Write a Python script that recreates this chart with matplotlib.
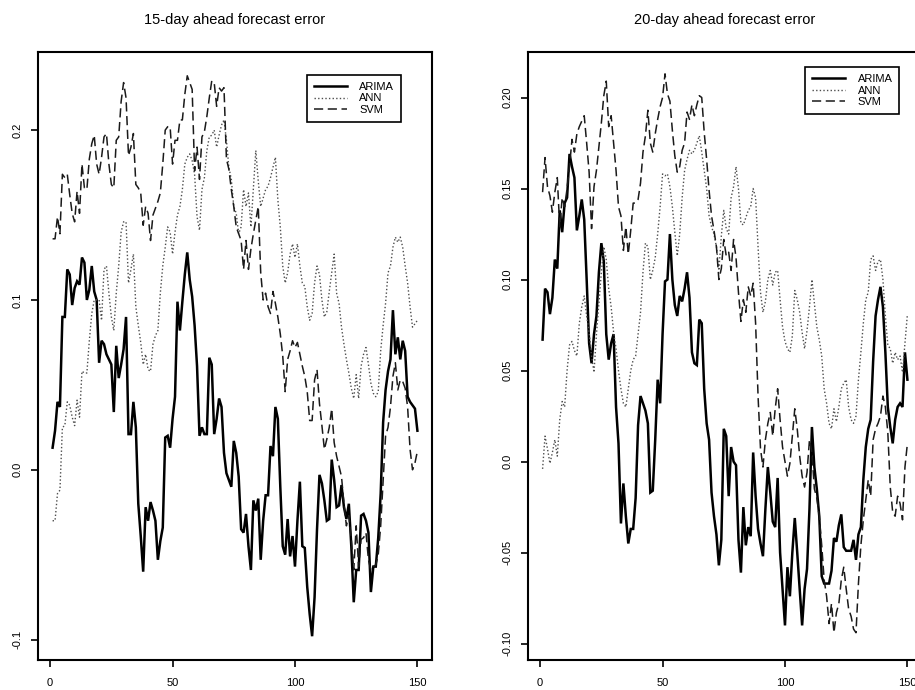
import numpy as np
import matplotlib
matplotlib.use("Agg")
import matplotlib.pyplot as plt
from matplotlib.lines import Line2D

plt.rcParams['font.family'] = ['Liberation Sans', 'DejaVu Sans']

days = np.arange(1, 151)

# 15-day ahead forecast error
arima15 = [0.013, 0.023, 0.040, 0.037, 0.090, 0.090, 0.118, 0.115, 0.097, 0.107,
           0.111, 0.109, 0.125, 0.122, 0.100, 0.106, 0.120, 0.105, 0.100, 0.063,
           0.076, 0.074, 0.068, 0.065, 0.062, 0.034, 0.073, 0.054, 0.062, 0.071,
           0.090, 0.021, 0.021, 0.040, 0.025, -0.020, -0.039, -0.060, -0.022, -0.030,
           -0.019, -0.024, -0.030, -0.053, -0.042, -0.034, 0.019, 0.020, 0.013, 0.030,
           0.043, 0.099, 0.082, 0.099, 0.115, 0.128, 0.112, 0.102, 0.085, 0.061,
           0.020, 0.025, 0.021, 0.021, 0.066, 0.062, 0.021, 0.030, 0.042, 0.037,
           0.010, -0.002, -0.006, -0.010, 0.017, 0.010, -0.004, -0.035, -0.037, -0.026,
           -0.045, -0.059, -0.018, -0.024, -0.017, -0.053, -0.030, -0.015, -0.015, 0.014,
           0.008, 0.037, 0.030, -0.010, -0.045, -0.050, -0.029, -0.051, -0.039, -0.057,
           -0.030, -0.007, -0.045, -0.046, -0.069, -0.085, -0.098, -0.075, -0.035, -0.003,
           -0.008, -0.018, -0.030, -0.029, 0.006, -0.006, -0.022, -0.021, -0.009, -0.022,
           -0.029, -0.020, -0.045, -0.078, -0.059, -0.059, -0.027, -0.026, -0.030, -0.037,
           -0.072, -0.057, -0.057, -0.040, -0.014, 0.028, 0.047, 0.058, 0.065, 0.094,
           0.068, 0.078, 0.065, 0.076, 0.070, 0.043, 0.040, 0.038, 0.036, 0.023]
ann15 = [-0.030, -0.030, -0.014, -0.012, 0.025, 0.026, 0.040, 0.038, 0.031, 0.026,
         0.041, 0.031, 0.058, 0.057, 0.057, 0.076, 0.092, 0.100, 0.100, 0.100,
         0.088, 0.118, 0.120, 0.104, 0.090, 0.082, 0.104, 0.120, 0.140, 0.146,
         0.146, 0.110, 0.118, 0.127, 0.096, 0.085, 0.075, 0.062, 0.068, 0.059,
         0.058, 0.074, 0.079, 0.082, 0.104, 0.120, 0.131, 0.143, 0.140, 0.127,
         0.140, 0.150, 0.155, 0.165, 0.180, 0.184, 0.186, 0.182, 0.174, 0.149,
         0.141, 0.165, 0.172, 0.188, 0.196, 0.197, 0.200, 0.190, 0.197, 0.203,
         0.206, 0.194, 0.178, 0.171, 0.155, 0.151, 0.139, 0.143, 0.165, 0.155,
         0.163, 0.143, 0.165, 0.188, 0.170, 0.155, 0.160, 0.165, 0.167, 0.172,
         0.178, 0.184, 0.159, 0.143, 0.120, 0.110, 0.116, 0.127, 0.133, 0.125,
         0.133, 0.120, 0.110, 0.108, 0.096, 0.088, 0.092, 0.110, 0.120, 0.115,
         0.100, 0.090, 0.093, 0.105, 0.116, 0.127, 0.104, 0.098, 0.084, 0.074,
         0.065, 0.057, 0.048, 0.042, 0.056, 0.042, 0.061, 0.068, 0.072, 0.062,
         0.051, 0.045, 0.043, 0.046, 0.070, 0.085, 0.098, 0.116, 0.120, 0.131,
         0.137, 0.134, 0.137, 0.131, 0.120, 0.110, 0.096, 0.084, 0.086, 0.088]
svm15 = [0.136, 0.136, 0.149, 0.139, 0.174, 0.172, 0.174, 0.162, 0.151, 0.146,
         0.164, 0.151, 0.180, 0.166, 0.165, 0.183, 0.192, 0.197, 0.180, 0.174,
         0.184, 0.196, 0.198, 0.180, 0.168, 0.166, 0.194, 0.196, 0.217, 0.228,
         0.219, 0.185, 0.190, 0.198, 0.168, 0.166, 0.163, 0.144, 0.155, 0.151,
         0.135, 0.150, 0.154, 0.158, 0.163, 0.180, 0.200, 0.202, 0.202, 0.180,
         0.194, 0.194, 0.206, 0.206, 0.221, 0.232, 0.228, 0.224, 0.176, 0.190,
         0.171, 0.196, 0.199, 0.208, 0.219, 0.229, 0.228, 0.214, 0.225, 0.223,
         0.225, 0.183, 0.177, 0.165, 0.155, 0.143, 0.139, 0.135, 0.118, 0.135,
         0.118, 0.130, 0.139, 0.147, 0.155, 0.116, 0.100, 0.104, 0.096, 0.092,
         0.105, 0.098, 0.090, 0.080, 0.067, 0.046, 0.065, 0.070, 0.076, 0.072,
         0.075, 0.068, 0.061, 0.055, 0.046, 0.029, 0.029, 0.053, 0.059, 0.039,
         0.026, 0.012, 0.018, 0.025, 0.036, 0.016, 0.008, 0.002, -0.004, -0.020,
         -0.033, -0.027, -0.041, -0.059, -0.033, -0.057, -0.041, -0.040, -0.037, -0.053,
         -0.059, -0.057, -0.056, -0.050, -0.033, -0.006, 0.020, 0.025, 0.037, 0.055,
         0.063, 0.047, 0.053, 0.052, 0.048, 0.037, 0.012, 0.000, 0.004, 0.011]

# 20-day ahead forecast error
arima20 = [0.067, 0.095, 0.093, 0.081, 0.090, 0.111, 0.106, 0.138, 0.126, 0.142,
           0.145, 0.169, 0.162, 0.156, 0.127, 0.135, 0.144, 0.133, 0.100, 0.065,
           0.054, 0.070, 0.080, 0.104, 0.120, 0.110, 0.070, 0.056, 0.065, 0.070,
           0.030, 0.010, -0.034, -0.012, -0.030, -0.045, -0.037, -0.037, -0.020, 0.020,
           0.036, 0.032, 0.028, 0.021, -0.017, -0.016, 0.012, 0.045, 0.032, 0.070,
           0.099, 0.100, 0.125, 0.100, 0.086, 0.080, 0.091, 0.088, 0.095, 0.104,
           0.090, 0.060, 0.054, 0.053, 0.078, 0.076, 0.040, 0.021, 0.012, -0.017,
           -0.030, -0.040, -0.057, -0.043, 0.018, 0.014, -0.019, 0.008, 0.000, -0.002,
           -0.043, -0.061, -0.025, -0.046, -0.036, -0.041, 0.005, -0.019, -0.037, -0.045,
           -0.052, -0.026, -0.003, -0.017, -0.033, -0.036, -0.009, -0.050, -0.070, -0.090,
           -0.058, -0.074, -0.050, -0.031, -0.050, -0.070, -0.090, -0.070, -0.059, -0.026,
           0.019, -0.003, -0.015, -0.030, -0.063, -0.067, -0.067, -0.067, -0.060, -0.042,
           -0.044, -0.035, -0.029, -0.047, -0.049, -0.049, -0.049, -0.043, -0.054, -0.040,
           -0.036, -0.010, 0.008, 0.018, 0.023, 0.055, 0.080, 0.089, 0.096, 0.085,
           0.060, 0.030, 0.019, 0.010, 0.023, 0.030, 0.032, 0.030, 0.060, 0.045]
ann20 = [-0.004, 0.014, 0.007, -0.001, 0.005, 0.012, 0.003, 0.023, 0.033, 0.030,
         0.050, 0.064, 0.066, 0.061, 0.058, 0.076, 0.085, 0.091, 0.080, 0.071,
         0.058, 0.049, 0.070, 0.087, 0.104, 0.118, 0.111, 0.095, 0.085, 0.071,
         0.062, 0.050, 0.040, 0.032, 0.030, 0.040, 0.050, 0.056, 0.058, 0.070,
         0.082, 0.104, 0.120, 0.118, 0.100, 0.105, 0.112, 0.125, 0.140, 0.158,
         0.157, 0.158, 0.151, 0.140, 0.126, 0.113, 0.125, 0.145, 0.160, 0.166,
         0.171, 0.169, 0.171, 0.175, 0.179, 0.170, 0.160, 0.150, 0.135, 0.129,
         0.125, 0.118, 0.105, 0.124, 0.138, 0.128, 0.125, 0.145, 0.151, 0.162,
         0.150, 0.131, 0.130, 0.134, 0.138, 0.140, 0.150, 0.145, 0.118, 0.093,
         0.082, 0.088, 0.100, 0.105, 0.097, 0.104, 0.105, 0.089, 0.074, 0.066,
         0.062, 0.060, 0.069, 0.094, 0.089, 0.082, 0.071, 0.062, 0.072, 0.085,
         0.100, 0.087, 0.074, 0.067, 0.058, 0.040, 0.032, 0.021, 0.018, 0.029,
         0.022, 0.030, 0.040, 0.043, 0.045, 0.030, 0.023, 0.021, 0.025, 0.045,
         0.060, 0.076, 0.089, 0.093, 0.111, 0.113, 0.105, 0.110, 0.111, 0.100,
         0.080, 0.064, 0.062, 0.054, 0.060, 0.056, 0.058, 0.049, 0.065, 0.081]
svm20 = [0.148, 0.167, 0.151, 0.146, 0.137, 0.148, 0.156, 0.129, 0.145, 0.140,
         0.150, 0.162, 0.177, 0.170, 0.180, 0.184, 0.187, 0.190, 0.175, 0.159,
         0.128, 0.151, 0.160, 0.173, 0.186, 0.201, 0.209, 0.184, 0.190, 0.175,
         0.160, 0.140, 0.135, 0.116, 0.129, 0.114, 0.127, 0.142, 0.142, 0.144,
         0.153, 0.170, 0.179, 0.193, 0.175, 0.170, 0.180, 0.188, 0.195, 0.200,
         0.213, 0.202, 0.198, 0.182, 0.168, 0.159, 0.162, 0.171, 0.175, 0.192,
         0.188, 0.196, 0.190, 0.196, 0.201, 0.200, 0.181, 0.166, 0.149, 0.135,
         0.127, 0.118, 0.100, 0.106, 0.122, 0.113, 0.115, 0.105, 0.122, 0.112,
         0.093, 0.077, 0.089, 0.082, 0.096, 0.091, 0.098, 0.076, 0.036, 0.007,
         -0.003, 0.012, 0.021, 0.027, 0.014, 0.029, 0.040, 0.023, 0.008, 0.000,
         -0.008, -0.001, 0.014, 0.029, 0.018, 0.003, -0.008, -0.014, -0.006, 0.012,
         0.005, -0.015, -0.020, -0.030, -0.046, -0.065, -0.074, -0.089, -0.078, -0.094,
         -0.083, -0.078, -0.065, -0.058, -0.070, -0.081, -0.085, -0.092, -0.094, -0.067,
         -0.046, -0.032, -0.021, -0.010, -0.019, 0.012, 0.018, 0.021, 0.025, 0.036,
         0.030, 0.016, -0.014, -0.028, -0.030, -0.019, -0.023, -0.032, -0.003, 0.010]

panels = [
    ("15-day ahead forecast error", arima15, ann15, svm15,
     [-0.1, 0.0, 0.1, 0.2], ["-0.1", "0.0", "0.1", "0.2"], (-0.112, 0.246)),
    ("20-day ahead forecast error", arima20, ann20, svm20,
     [-0.10, -0.05, 0.0, 0.05, 0.10, 0.15, 0.20],
     ["-0.10", "-0.05", "0.0", "0.05", "0.10", "0.15", "0.20"], (-0.109, 0.225)),
]
lefts = [38 / 915, 528 / 915]
legend_anchor = [(0.921, 0.962), (0.942, 0.975)]

ann_style = dict(color='0.3', lw=1.0, linestyle=(0, (1, 1.6)))
svm_style = dict(color='0.1', lw=1.1, linestyle=(0, (6, 3)))

fig = plt.figure(figsize=(9.15, 6.9), dpi=100)

for i, (title, ar, an, sv, yt, ytl, ylim) in enumerate(panels):
    ax = fig.add_axes([lefts[i], 30 / 690, 394 / 915, 608 / 690])
    ax.plot(days, ar, color='black', lw=1.8, solid_joinstyle='miter')
    ax.plot(days, an, **ann_style)
    ax.plot(days, sv, **svm_style)
    ax.set_xlim(1 - 0.04 * 149, 150 + 0.04 * 149)
    ax.set_ylim(*ylim)
    ax.set_xticks([0, 50, 100, 150])
    ax.set_xticklabels(["0", "50", "100", "150"])
    ax.set_yticks(yt)
    ax.set_yticklabels(ytl, rotation=90, va='center')
    ax.tick_params(direction='out', length=5, width=1.2, labelsize=8)
    ax.tick_params(axis='x', pad=8)
    ax.tick_params(axis='y', pad=6)
    for s in ax.spines.values():
        s.set_linewidth(1.5)
    ax.set_title(title, fontsize=10.5, pad=20)

    handles = [Line2D([], [], color='black', lw=1.8),
               Line2D([], [], **ann_style),
               Line2D([], [], **svm_style)]
    leg = ax.legend(handles, ["ARIMA", "ANN", "SVM"], loc='upper right',
                    bbox_to_anchor=legend_anchor[i], fontsize=8, fancybox=False,
                    framealpha=1, edgecolor='black', handlelength=3.0,
                    handletextpad=1.1, labelspacing=0.15, borderpad=0.6,
                    borderaxespad=0)
    leg.get_frame().set_linewidth(1.2)

fig.savefig("out.png", dpi=100)
